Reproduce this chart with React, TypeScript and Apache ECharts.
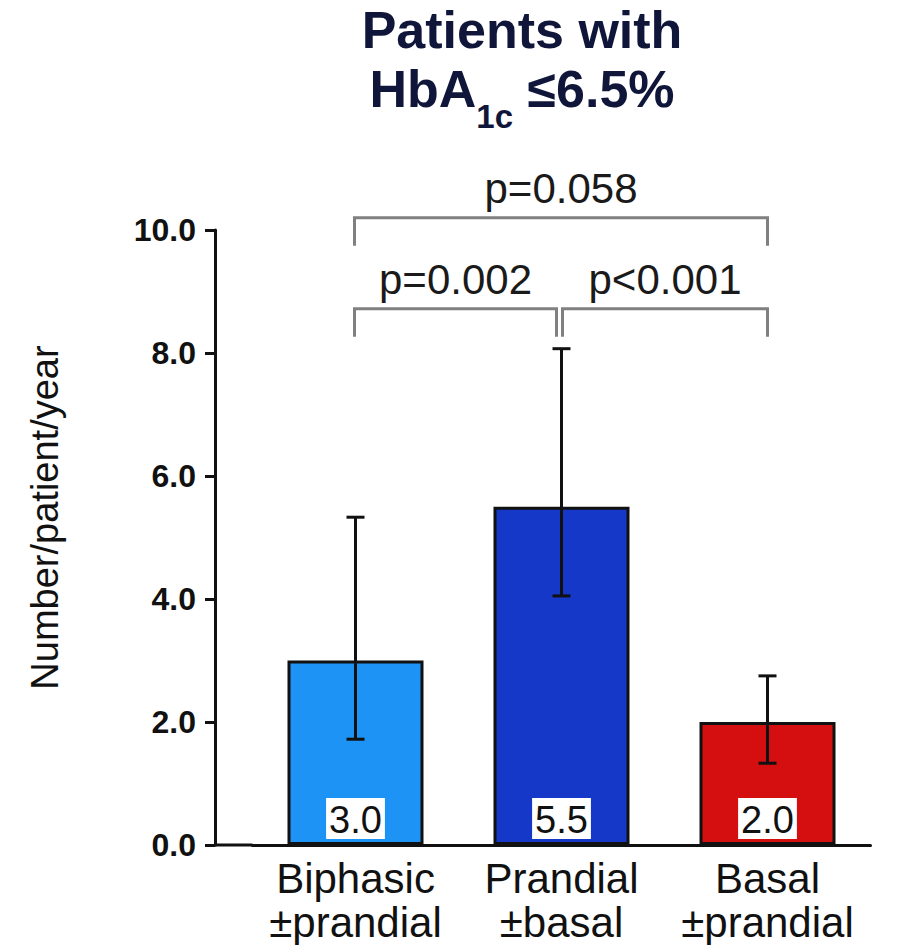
import React, { useEffect, useRef } from 'react';
import * as echarts from 'echarts';

// ---- data ----
const categories = ['Biphasic\n±prandial', 'Prandial\n±basal', 'Basal\n±prandial'];
const values = [3.0, 5.5, 2.0];
const errLow = [1.72, 4.05, 1.33];
const errHigh = [5.33, 8.07, 2.75];
const yMin = 0;
const yMax = 10;
const yInterval = 2;
const bracketFrom = [0, 1, 0];
const bracketTo = [1, 2, 2];
const bracketLevel = [8.72, 8.72, 10.2];
const bracketLabels = ['p=0.002', 'p<0.001', 'p=0.058'];

// ---- styles ----
const FONT = "'Liberation Sans', Arial, Helvetica, sans-serif";
const barColors = ['#1c93f5', '#1638c8', '#d50f0f'];
const INK = '#111111';
const TITLE = '#10163a';
const GRID_LEFT = 252.5;
const Y_OFFSET = 37.5;

export default function App() {
  const ref = useRef<HTMLDivElement>(null);

  useEffect(() => {
    if (!ref.current) return;
    const chart = echarts.init(ref.current, undefined, { renderer: 'svg' });

    const option: any = {
      animation: false,
      textStyle: { fontFamily: FONT },
      title: {
        text: '{a|Patients with}\n{a|HbA}{s|1c}{a| ≤6.5%}',
        left: 517,
        top: -1,
        textAlign: 'center',
        textStyle: {
          rich: {
            a: { fontSize: 52, fontWeight: 'bold', color: TITLE, lineHeight: 59, verticalAlign: 'top', fontFamily: FONT },
            s: { fontSize: 33, fontWeight: 'bold', color: TITLE, verticalAlign: 'top', padding: [37, 0, 0, 0], fontFamily: FONT },
          },
        },
      },
      grid: { left: GRID_LEFT, right: 37.5, top: 230, bottom: 100, containLabel: false },
      xAxis: {
        type: 'category',
        data: categories,
        axisTick: { show: false },
        axisLine: { show: true, lineStyle: { color: INK, width: 3 } },
        axisLabel: { interval: 0, fontSize: 42, lineHeight: 44, color: INK, margin: 11, fontFamily: FONT },
      },
      yAxis: {
        type: 'value',
        min: yMin,
        max: yMax,
        interval: yInterval,
        offset: Y_OFFSET,
        axisLine: { show: true, lineStyle: { color: INK, width: 3 } },
        axisTick: { show: true, length: 10, lineStyle: { color: INK, width: 3 } },
        axisLabel: {
          formatter: (v: number) => v.toFixed(1),
          fontSize: 32,
          fontWeight: 'bold',
          color: INK,
          margin: 19,
          fontFamily: FONT,
        },
        splitLine: { show: false },
        name: 'Number/patient/year',
        nameLocation: 'middle',
        nameGap: 151,
        nameTextStyle: { fontSize: 38, color: INK, fontFamily: FONT, padding: [0, 0, 0, 40] },
      },
      series: [
        {
          type: 'bar',
          barWidth: 136,
          data: values.map((v, i) => ({ value: v, itemStyle: { color: barColors[i] } })),
          itemStyle: { borderColor: INK, borderWidth: 3 },
          label: {
            show: true,
            position: 'insideBottom',
            distance: 6,
            formatter: (p: any) => Number(p.value).toFixed(1),
            fontSize: 38,
            lineHeight: 38,
            color: INK,
            backgroundColor: '#ffffff',
            padding: [3, 3, 0, 3],
            fontFamily: FONT,
          },
          z: 2,
        },
        {
          type: 'custom',
          z: 5,
          clip: false,
          data: values.map((_, i) => [i, errLow[i], errHigh[i]]),
          encode: { x: 0, y: [1, 2] },
          renderItem: (params: any, api: any) => {
            const x = api.value(0);
            const lo = api.coord([x, api.value(1)]);
            const hi = api.coord([x, api.value(2)]);
            const cap = 9;
            const st = { stroke: INK, lineWidth: 3 };
            return {
              type: 'group',
              children: [
                { type: 'line', shape: { x1: lo[0], y1: lo[1], x2: hi[0], y2: hi[1] }, style: st },
                { type: 'line', shape: { x1: lo[0] - cap, y1: lo[1], x2: lo[0] + cap, y2: lo[1] }, style: st },
                { type: 'line', shape: { x1: hi[0] - cap, y1: hi[1], x2: hi[0] + cap, y2: hi[1] }, style: st },
              ],
            };
          },
        },
        {
          type: 'custom',
          z: 5,
          clip: false,
          data: bracketFrom.map((f, i) => [f, bracketLevel[i], bracketTo[i]]),
          encode: { x: 0, y: 1 },
          renderItem: (params: any, api: any) => {
            const i = params.dataIndex;
            const a = api.coord([bracketFrom[i], bracketLevel[i]]);
            const b = api.coord([bracketTo[i], bracketLevel[i]]);
            const leg = 28;
            let x1 = a[0] - 1;
            let x2 = b[0];
            const sharedLeft = bracketTo.some((t, j) => j !== i && t === bracketFrom[i] && bracketLevel[j] === bracketLevel[i]);
            const sharedRight = bracketFrom.some((f, j) => j !== i && f === bracketTo[i] && bracketLevel[j] === bracketLevel[i]);
            if (sharedLeft) x1 = a[0] + 1;
            if (sharedRight) x2 = b[0] - 5;
            const y = a[1];
            return {
              type: 'group',
              children: [
                {
                  type: 'polyline',
                  shape: { points: [[x1, y + leg], [x1, y], [x2, y], [x2, y + leg]] },
                  style: { stroke: '#808080', lineWidth: 3, fill: 'none' },
                },
                {
                  type: 'text',
                  style: {
                    text: bracketLabels[i],
                    x: (x1 + x2) / 2,
                    y: y - 8.5,
                    align: 'center',
                    verticalAlign: 'bottom',
                    fontSize: 42,
                    fontFamily: FONT,
                    fill: '#1a1a1a',
                  },
                },
              ],
            };
          },
        },
      ],
    };

    chart.setOption(option);
    const y0 = chart.convertToPixel({ yAxisIndex: 0 }, 0) as number;
    chart.setOption({
      graphic: [
        {
          type: 'line',
          shape: { x1: GRID_LEFT - Y_OFFSET, y1: y0, x2: GRID_LEFT, y2: y0 },
          style: { stroke: INK, lineWidth: 3 },
          z: 10,
        },
      ],
    });

    return () => chart.dispose();
  }, []);

  return (
    <div
      ref={ref}
      style={{ position: 'absolute', left: 0, top: 0, width: 908, height: 945, background: '#fff' }}
    />
  );
}
